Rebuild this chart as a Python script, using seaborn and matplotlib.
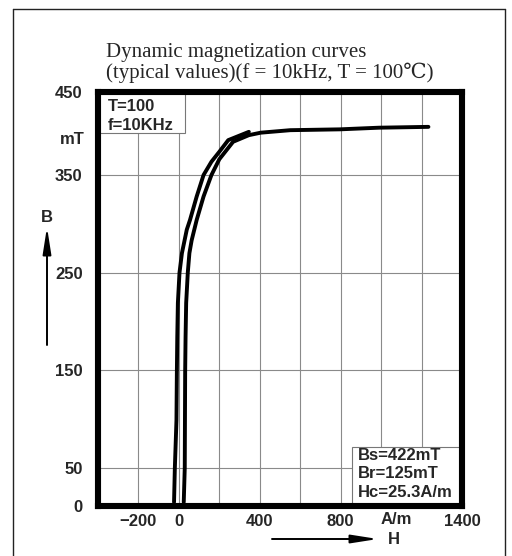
import numpy as np
import pandas as pd
import matplotlib.pyplot as plt
import matplotlib.lines as mlines
from matplotlib.patches import Rectangle
import seaborn as sns

# outer (left) branch of the loop, H in A/m, B in mT
h_left = [-24, -20, -12, -10, -8, -5, 3, 15, 28, 39, 55, 88, 122, 161, 200, 244, 346]
b_left = [5, 50, 99, 148, 184, 219, 250, 270, 283, 294, 304, 328, 350, 366, 378, 392, 402]

# inner (right) branch running on to saturation
h_right = [24, 29, 30, 31, 33, 36, 44, 52, 63, 88, 122, 161, 200, 268, 346, 405, 551, 795, 990, 1234]
b_right = [5, 50, 99, 148, 184, 219, 250, 270, 283, 304, 328, 350, 369, 390, 398, 401, 404, 405, 407, 408]

x_ticks = [-200, 0, 400, 800, 1400]
x_grid = [-200, 0, 200, 400, 600, 800, 1000, 1200]
y_ticks = [0, 50, 150, 250, 350, 450]
y_grid = [50, 150, 250, 350]

df = pd.concat([
    pd.DataFrame({"H": h_left, "B": b_left, "branch": "left"}),
    pd.DataFrame({"H": h_right, "B": b_right, "branch": "right"}),
])

sns.set_style("white")
plt.rcParams["font.family"] = ["Liberation Sans", "DejaVu Sans"]

# the printed chart has an uneven B axis, squeezed at both ends
B_PTS = [-100, 0, 50, 350, 450, 600]
U_PTS = [-76, 0, 38, 331, 414, 538]


def fwd(v):
    return np.interp(v, B_PTS, U_PTS)


def inv(u):
    return np.interp(u, U_PTS, B_PTS)


fig = plt.figure(figsize=(5.12, 5.56), dpi=100)
ax = fig.add_axes([98 / 512, 50 / 556, 364 / 512, 414 / 556])
ax.set_yscale("function", functions=(fwd, inv))

for gx in x_grid:
    ax.axvline(gx, color="#8a8a8a", linewidth=0.8, zorder=1)
for gy in y_grid:
    ax.axhline(gy, color="#8a8a8a", linewidth=0.8, zorder=1)

sns.lineplot(data=df, x="H", y="B", units="branch", estimator=None, sort=False,
             color="black", linewidth=2.8, ax=ax, zorder=3)

ax.set_xlim(-400, 1400)
ax.set_ylim(0, 450)
ax.set_xticks(x_ticks)
ax.set_yticks(y_ticks)
ax.set_xticklabels([str(t).replace("-", "\u2212") for t in x_ticks])
ax.set_yticklabels([str(t) for t in y_ticks])
ax.tick_params(which="both", length=0)
ax.tick_params(axis="x", pad=6, labelsize=12)
ax.tick_params(axis="y", pad=11, labelsize=12)
for lab in ax.get_xticklabels() + ax.get_yticklabels():
    lab.set_fontweight("bold")
ax.grid(False)
ax.set_xlabel("")
ax.set_ylabel("")
for s in ax.spines.values():
    s.set_linewidth(4.4)
    s.set_color("black")
    s.set_zorder(5)

# info boxes
ax.add_patch(Rectangle((0, 0.901), 0.239, 0.099, transform=ax.transAxes,
                       facecolor="white", edgecolor="#777777", linewidth=0.8, zorder=4))
ax.text(0.027, 0.964, "T=100", transform=ax.transAxes, fontsize=12, fontweight="bold",
        va="center", ha="left", zorder=4.5)
ax.text(0.027, 0.920, "f=10KHz", transform=ax.transAxes, fontsize=12, fontweight="bold",
        va="center", ha="left", zorder=4.5)

ax.add_patch(Rectangle((0.698, 0), 0.302, 0.1425, transform=ax.transAxes,
                       facecolor="white", edgecolor="#777777", linewidth=0.8, zorder=4))
for yy, txt in zip([0.121, 0.0797, 0.0338], ["Bs=422mT", "Br=125mT", "Hc=25.3A/m"]):
    ax.text(0.714, yy, txt, transform=ax.transAxes, fontsize=12, fontweight="bold",
            va="center", ha="left", zorder=4.5)

# unit labels
ax.text(85 / 512, 416 / 556, "mT", transform=fig.transFigure, fontsize=12, fontweight="bold",
        ha="right", va="center")
ax.text(396 / 512, 36 / 556, "A/m", transform=fig.transFigure, fontsize=12, fontweight="bold",
        ha="center", va="center")

# axis arrows
ax.annotate("", xy=(47, 329), xytext=(47, 211), xycoords="figure pixels",
            textcoords="figure pixels",
            arrowprops=dict(arrowstyle="-|>,head_length=1.6,head_width=0.25",
                            color="black", lw=1.4, shrinkA=0, shrinkB=0))
fig.text(47 / 512, 338 / 556, "B", fontsize=12, fontweight="bold", ha="center", va="center")
ax.annotate("", xy=(378, 17), xytext=(272, 17), xycoords="figure pixels",
            textcoords="figure pixels",
            arrowprops=dict(arrowstyle="-|>,head_length=1.6,head_width=0.25",
                            color="black", lw=1.4, shrinkA=0, shrinkB=0))
fig.text(394 / 512, 17 / 556, "H", fontsize=12, fontweight="bold", ha="center", va="center")

# title
serif = ["Liberation Serif", "DejaVu Serif", "Noto Sans CJK SC"]
fig.text(106 / 512, 478 / 556,
         "Dynamic magnetization curves\n(typical values)(f = 10kHz, T = 100\u2103)",
         fontsize=15, family=serif, ha="left", va="baseline", linespacing=1.02)

# outer frame of the figure
for xs, ys in [([13, 13], [0, 547]), ([13, 505], [547, 547]), ([505, 505], [547, 0])]:
    fig.add_artist(mlines.Line2D([x / 512 for x in xs], [y / 556 for y in ys],
                                 color="#222222", linewidth=1.0))

fig.savefig("out.png", dpi=100)
